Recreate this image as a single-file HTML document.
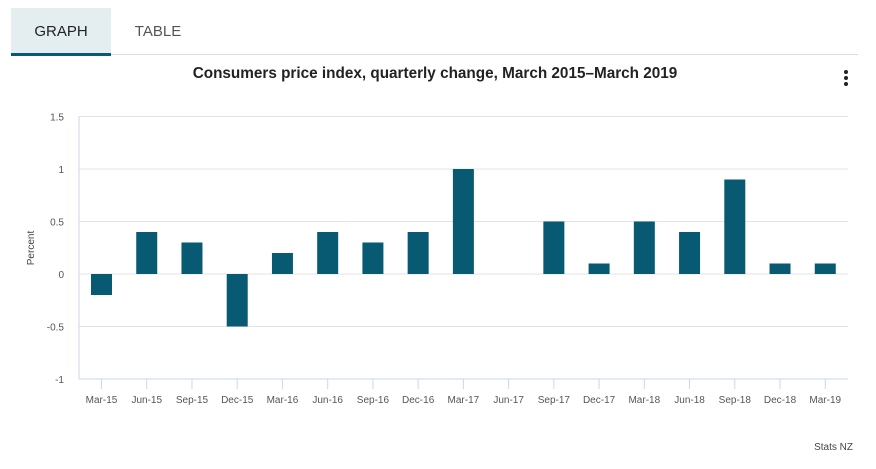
<!DOCTYPE html>
<html><head><meta charset="utf-8"><style>
body{margin:0;background:#fff;font-family:"Liberation Sans",sans-serif;width:876px;height:469px;overflow:hidden;position:relative}
.tab{position:absolute;top:8px;height:45px;width:100px;font-size:15px;line-height:47px;text-align:center;color:#444}
</style></head><body>
<div class="tab" style="left:11px;background:#e4edf0;border-bottom:3px solid #075a72;color:#222">GRAPH</div>
<div class="tab" style="left:108px;color:#555">TABLE</div>
<div style="position:absolute;left:111px;top:54px;width:747px;height:1px;background:#ddd"></div>
<svg id="c" width="876" height="469" style="position:absolute;left:0;top:0" xmlns="http://www.w3.org/2000/svg">
<text x="435" y="78" text-anchor="middle" font-size="15.3" font-weight="bold" fill="#222">Consumers price index, quarterly change, March 2015–March 2019</text>
<g fill="#222"><circle cx="846" cy="72" r="2"/><circle cx="846" cy="78" r="2"/><circle cx="846" cy="84" r="2"/></g>
<text transform="translate(34,248) rotate(-90)" text-anchor="middle" font-size="10" fill="#444">Percent</text>
<text x="853" y="450" text-anchor="end" font-size="10" fill="#444">Stats NZ</text>
</svg>
<script>
const categories=["Mar-15","Jun-15","Sep-15","Dec-15","Mar-16","Jun-16","Sep-16","Dec-16","Mar-17","Jun-17","Sep-17","Dec-17","Mar-18","Jun-18","Sep-18","Dec-18","Mar-19"];
const values=[-0.2,0.4,0.3,-0.5,0.2,0.4,0.3,0.4,1.0,0,0.5,0.1,0.5,0.4,0.9,0.1,0.1];
const yTicks=[1.5,1,0.5,0,-0.5,-1];
const yLabels=["1.5","1","0.5","0","-0.5","-1"];
const svg=document.getElementById('c');const NS='http://www.w3.org/2000/svg';
const X0=79,X1=848;
function y(v){return 274-v*105;}
function x(i){return 101.5+i*(X1-X0)/categories.length;}
function mk(t,a){const e=document.createElementNS(NS,t);for(const k in a)e.setAttribute(k,a[k]);svg.appendChild(e);return e;}
yTicks.forEach((v,i)=>{
 if(v!==-1){const g=mk('line',{x1:X0,x2:X1,y1:y(v),y2:y(v),stroke:'#e3e3e3','stroke-width':1});
 
 }
 const t=mk('text',{x:64,y:y(v)+4,'text-anchor':'end','font-size':10,fill:'#555'});t.textContent=yLabels[i];
 
 
});
const ax=mk('line',{x1:X0,x2:X0,y1:116,y2:379,stroke:'#ccd6eb'});


const xa=mk('line',{x1:X0,x2:X1,y1:379,y2:379,stroke:'#ccd6eb'});


categories.forEach((c,i)=>{
 const cx=x(i);
 const tk=mk('line',{x1:cx,x2:cx,y1:379,y2:389,stroke:'#ccd6eb'});
 
 
 const t=mk('text',{x:cx,y:403,'text-anchor':'middle','font-size':10,fill:'#555'});t.textContent=c;
 
 
 const v=values[i];if(v===0)return;
 const top=Math.min(y(v),y(0)),h=Math.abs(y(v)-y(0));
 const b=mk('rect',{x:cx-10.5,y:top,width:21,height:h,fill:'#075a72'});
 
 
});
</script>
</body></html>
